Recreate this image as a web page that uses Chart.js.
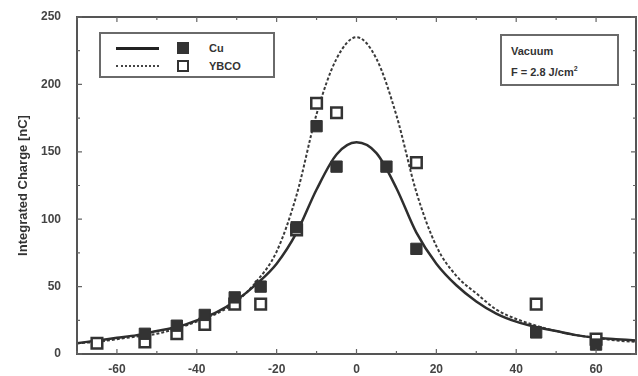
<!DOCTYPE html>
<html>
<head>
<meta charset="utf-8">
<script src="https://cdn.jsdelivr.net/npm/chart.js@4.4.0/dist/chart.umd.min.js"></script>
<style>
  html, body { margin: 0; padding: 0; background: #fff; overflow: hidden; width: 638px; height: 376px; }
  #wrap { position: absolute; left: 0; top: 0; width: 646px; height: 376px; }
  .box { position: absolute; border: 2px solid #6a6a6a; background: #fff; font-family: "Liberation Sans", Arial, sans-serif; font-weight: bold; font-size: 11px; color: #333; }
  .row { position: absolute; height: 14px; }
  .ln { position: absolute; left: 15px; width: 43px; }
  .sq { position: absolute; left: 76px; width: 12px; height: 12px; box-sizing: border-box; }
  .lab { position: absolute; left: 108px; line-height: 14px; }
</style>
</head>
<body>
<div id="wrap"><canvas id="chart" width="646" height="376"></canvas></div>

<div class="box" style="left:99px; top:32px; width:172px; height:42px;">
  <div class="row" style="top:7px; width:170px;">
    <div class="ln" style="top:6px; border-top:3px solid #222;"></div>
    <div class="sq" style="top:1px; background:#333;"></div>
    <div class="lab" style="top:0px;">Cu</div>
  </div>
  <div class="row" style="top:25px; width:170px;">
    <div class="ln" style="top:6px; border-top:2px dotted #444;"></div>
    <div class="sq" style="top:1px; border:2px solid #333; background:#fff;"></div>
    <div class="lab" style="top:0px;">YBCO</div>
  </div>
</div>

<div class="box" style="left:500px; top:34px; width:115px; height:48px;">
  <div style="position:absolute; left:9px; top:9px;">Vacuum</div>
  <div style="position:absolute; left:9px; top:29px;">F = 2.8 J/cm<sup style="font-size:7px;">2</sup></div>
</div>

<script>
// measured positions and integrated charge (nC)
var cuX = [-53, -45, -38, -30.5, -24, -15, -10, -5, 7.5, 15, 45, 60];
var cuY = [15, 21, 29, 42, 50, 94, 169, 139, 139, 78, 16, 7];

var ybcoX = [-65, -53, -45, -38, -30.5, -24, -15, -10, -5, 15, 45, 60];
var ybcoY = [8, 9, 15, 22, 37, 37, 92, 186, 179, 142, 37, 11];

// fit curves
var fitX = [-70, -65, -60, -55, -50, -45, -40, -35, -30, -25, -20, -15, -10, -5, 0, 5, 10, 15, 20, 25, 30, 35, 40, 45, 50, 55, 60, 65, 70];
var cuFit = [8, 10, 12, 14, 17, 20, 25, 31, 40, 52, 67, 90, 122, 148, 157, 149, 123, 90, 67, 51, 39, 30, 24, 20, 17, 14, 12, 11, 10];
var ybcoFit = [8, 9, 11, 13, 15, 19, 24, 30, 39, 54, 76, 118, 178, 219, 235, 219, 177, 120, 80, 58, 45, 33, 26, 21, 17, 14, 12, 10, 9];

var xTicks = [-60, -40, -20, 0, 20, 40, 60];
var yTicks = [0, 50, 100, 150, 200, 250];

function pts(xs, ys) {
    return xs.map(function(x, i) { return { x: x, y: ys[i] }; });
}

var ink = '#2e2e2e';

// frame and inward tick marks
var framePlugin = {
    id: 'frame',
    afterDraw: function(chart) {
        var ctx = chart.ctx;
        var a = chart.chartArea;
        var xs = chart.scales.x, ys = chart.scales.y;
        ctx.save();
        ctx.strokeStyle = '#555';
        ctx.lineWidth = 2;
        ctx.strokeRect(a.left, a.top, a.right - a.left, a.bottom - a.top);
        ctx.lineWidth = 1.2;
        ctx.strokeStyle = '#666';
        for (var v = -70; v <= 70; v += 10) {
            var px = xs.getPixelForValue(v);
            var len = (v % 20 === 0) ? 5 : 3;
            ctx.beginPath();
            ctx.moveTo(px, a.bottom); ctx.lineTo(px, a.bottom - len);
            ctx.moveTo(px, a.top); ctx.lineTo(px, a.top + len);
            ctx.stroke();
        }
        for (var w = 0; w <= 250; w += 25) {
            var py = ys.getPixelForValue(w);
            var l2 = (w % 50 === 0) ? 5 : 3;
            ctx.beginPath();
            ctx.moveTo(a.left, py); ctx.lineTo(a.left + l2, py);
            ctx.moveTo(a.right, py); ctx.lineTo(a.right - l2, py);
            ctx.stroke();
        }
        ctx.restore();
    }
};

var ctx = document.getElementById('chart').getContext('2d');
var chart = new Chart(ctx, {
    type: 'scatter',
    data: {
        datasets: [
            {
                label: 'Cu',
                data: pts(cuX, cuY),
                pointStyle: 'rect',
                pointRadius: 8,
                backgroundColor: '#333',
                borderColor: '#333',
                borderWidth: 1,
                order: 0
            },
            {
                label: 'YBCO',
                data: pts(ybcoX, ybcoY),
                pointStyle: 'rect',
                pointRadius: 7.5,
                backgroundColor: '#fff',
                borderColor: '#333',
                borderWidth: 2.5,
                order: 0
            },
            {
                label: 'Cu fit',
                data: pts(fitX, cuFit),
                showLine: true,
                pointRadius: 0,
                borderColor: ink,
                borderWidth: 2.5,
                cubicInterpolationMode: 'monotone',
                order: 1
            },
            {
                label: 'YBCO fit',
                data: pts(fitX, ybcoFit),
                showLine: true,
                pointRadius: 0,
                borderColor: '#3a3a3a',
                borderWidth: 2,
                borderDash: [3, 2],
                cubicInterpolationMode: 'monotone',
                order: 1
            }
        ]
    },
    options: {
        responsive: false,
        animation: false,
        layout: { padding: { top: 17, right: 2, left: 0, bottom: 0 } },
        plugins: {
            legend: { display: false },
            tooltip: { enabled: false }
        },
        scales: {
            x: {
                type: 'linear',
                min: -70,
                max: 70,
                grid: { display: false },
                border: { display: false },
                afterBuildTicks: function(scale) {
                    scale.ticks = xTicks.map(function(v) { return { value: v }; });
                },
                afterFit: function(scale) { scale.height = 22; },
                ticks: {
                    padding: 0,
                    color: '#444',
                    font: { family: 'Liberation Sans', weight: 'bold', size: 12 }
                }
            },
            y: {
                min: 0,
                max: 250,
                grid: { display: false },
                border: { display: false },
                afterBuildTicks: function(scale) {
                    scale.ticks = yTicks.map(function(v) { return { value: v }; });
                },
                afterFit: function(scale) { scale.width = 77; },
                ticks: {
                    padding: 8,
                    color: '#444',
                    font: { family: 'Liberation Sans', weight: 'bold', size: 12 }
                },
                title: {
                    display: true,
                    text: 'Integrated Charge [nC]',
                    color: '#333',
                    padding: { top: 16, bottom: 0 },
                    font: { family: 'Liberation Sans', weight: 'bold', size: 13 }
                }
            }
        }
    },
    plugins: [framePlugin]
});
</script>
</body>
</html>
